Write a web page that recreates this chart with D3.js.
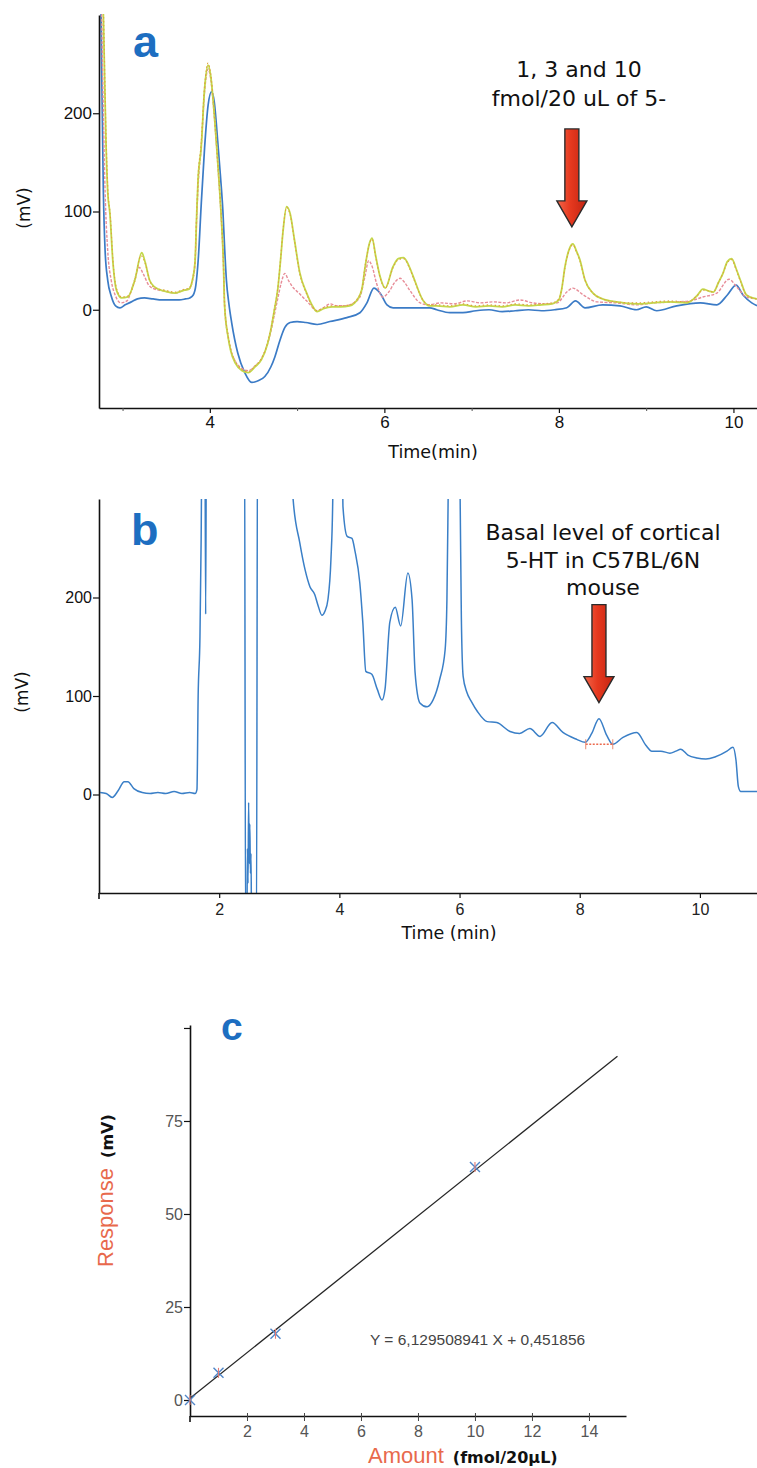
<!DOCTYPE html>
<html>
<head>
<meta charset="utf-8">
<script src="https://cdn.jsdelivr.net/npm/d3@7"></script>
<style>
  html, body { margin: 0; padding: 0; background: #ffffff; }
  svg { display: block; }
</style>
</head>
<body>
<svg id="fig" width="757" height="1468"></svg>
<script>
// ---------- Panel a: 5-HT standards, four overlaid chromatograms ----------
const aXTicks = [4, 6, 8, 10];
const aXMinor = [3, 5, 7, 9];
const aYTicks = [0, 100, 200];

// [time (min), response (mV)]
const aBlue = [[2.74,420],[2.76,250],[2.78,120],[2.80,60],[2.83,30],[2.87,14],[2.92,4],[2.97,2],[3.03,5],[3.10,8],[3.17,11],[3.25,12],[3.35,11],[3.45,10],[3.55,10],[3.65,10],[3.72,11],[3.77,12],[3.81,15],[3.84,25],[3.87,55],[3.90,105],[3.94,165],[3.98,208],[4.02,222],[4.05,212],[4.09,172],[4.12,138],[4.15,100],[4.17,62],[4.19,30],[4.22,5],[4.25,-13],[4.32,-44],[4.40,-64],[4.48,-74],[4.56,-72],[4.63,-68],[4.70,-58],[4.745,-48],[4.80,-32],[4.86,-18],[4.92,-13],[5.00,-12],[5.10,-13],[5.23,-15],[5.375,-12],[5.57,-8],[5.72,-3],[5.80,7],[5.88,22],[5.95,17],[6.03,5],[6.10,2],[6.33,2],[6.52,2],[6.60,0],[6.75,-3],[6.90,-3],[7.05,-1],[7.20,0],[7.35,-2],[7.50,-1],[7.65,0],[7.80,-1],[7.95,0],[8.09,2],[8.19,9],[8.30,2],[8.50,5],[8.70,4],[8.89,0],[9.00,3],[9.12,-1],[9.35,4],[9.62,7],[9.81,5],[9.93,15],[10.03,25],[10.11,15],[10.21,7],[10.27,4]];

const aPink = [[2.74,420],[2.77,250],[2.80,120],[2.83,60],[2.87,30],[2.92,14],[2.98,7],[3.05,9],[3.12,25],[3.19,43],[3.24,36],[3.30,25],[3.37,21],[3.48,19],[3.60,17],[3.71,20],[3.76,21],[3.80,29],[3.83,46],[3.85,95],[3.87,132],[3.90,164],[3.94,222],[3.98,245],[4.01,235],[4.05,198],[4.08,162],[4.11,123],[4.13,94],[4.155,48],[4.17,2],[4.21,-28],[4.24,-41],[4.29,-52],[4.37,-60],[4.44,-62],[4.52,-57],[4.59,-50],[4.66,-35],[4.70,-22],[4.74,-5],[4.78,12],[4.82,28],[4.86,37],[4.90,30],[4.95,23],[5.02,17],[5.12,8],[5.23,-1],[5.30,2],[5.38,6],[5.45,4],[5.55,4],[5.65,7],[5.72,13],[5.78,35],[5.82,50],[5.86,44],[5.91,27],[5.98,13],[6.05,18],[6.12,28],[6.18,32],[6.23,28],[6.29,20],[6.41,7],[6.50,5],[6.65,7],[6.80,6],[6.95,9],[7.10,7],[7.25,8],[7.40,7],[7.55,10],[7.70,7],[7.85,6],[7.98,7],[8.09,18],[8.16,22],[8.28,15],[8.44,8],[8.66,7],[8.89,5],[9.10,7],[9.35,8],[9.50,9],[9.65,13],[9.81,17],[9.95,31],[10.04,23],[10.15,13],[10.27,11]];

const aGreen = [[2.74,420],[2.78,300],[2.81,170],[2.83,120],[2.855,98],[2.89,48],[2.93,20],[2.99,12],[3.06,13],[3.14,30],[3.22,58],[3.26,48],[3.31,30],[3.37,23],[3.48,19],[3.60,17],[3.71,20],[3.76,21],[3.80,30],[3.83,48],[3.85,98],[3.865,132],[3.90,164],[3.94,225],[3.98,249],[4.01,238],[4.05,200],[4.08,164],[4.11,125],[4.13,96],[4.155,50],[4.17,3],[4.21,-28],[4.24,-42],[4.29,-54],[4.37,-62],[4.44,-64],[4.52,-58],[4.59,-51],[4.66,-35],[4.70,-20],[4.74,0],[4.78,22],[4.81,50],[4.84,81],[4.88,105],[4.92,98],[4.97,71],[5.03,38],[5.11,17],[5.17,5],[5.23,-2],[5.30,1],[5.40,3],[5.50,3],[5.60,4],[5.66,7],[5.74,20],[5.78,44],[5.83,68],[5.86,73],[5.90,55],[5.95,34],[6.01,22],[6.10,44],[6.16,52],[6.22,53],[6.28,45],[6.33,34],[6.44,10],[6.52,4],[6.60,4],[6.75,3],[6.90,5],[7.05,3],[7.20,4],[7.35,3],[7.50,5],[7.65,4],[7.80,5],[7.92,6],[8.00,10],[8.03,20],[8.07,44],[8.12,62],[8.16,67],[8.20,60],[8.24,51],[8.30,30],[8.39,17],[8.50,11],[8.66,8],[8.89,6],[9.08,7],[9.27,8],[9.47,7],[9.58,14],[9.65,21],[9.72,19],[9.77,18],[9.83,28],[9.88,37],[9.93,49],[9.98,52],[10.03,42],[10.08,30],[10.15,15],[10.27,11]];

const aOrange = [[2.74,420],[2.78,310],[2.81,180],[2.83,125],[2.86,95],[2.89,50],[2.93,22],[2.99,13],[3.06,14],[3.14,29],[3.21,55],[3.26,47],[3.31,30],[3.37,22],[3.48,20],[3.60,18],[3.71,21],[3.76,22],[3.80,31],[3.83,50],[3.85,100],[3.865,135],[3.90,168],[3.94,228],[3.98,251],[4.01,240],[4.05,202],[4.08,165],[4.11,126],[4.13,97],[4.155,52],[4.17,5],[4.21,-26],[4.24,-40],[4.29,-52],[4.37,-61],[4.44,-63],[4.52,-57],[4.59,-50],[4.66,-34],[4.70,-19],[4.74,1],[4.78,23],[4.81,51],[4.84,82],[4.88,104],[4.92,97],[4.97,70],[5.03,37],[5.11,16],[5.17,4],[5.23,-1],[5.30,2],[5.40,4],[5.50,4],[5.60,5],[5.66,8],[5.74,21],[5.78,45],[5.83,67],[5.86,72],[5.90,54],[5.95,33],[6.01,22],[6.10,43],[6.16,51],[6.22,52],[6.28,44],[6.33,33],[6.44,10],[6.52,5],[6.60,5],[6.75,4],[6.90,6],[7.05,4],[7.20,5],[7.35,4],[7.50,6],[7.65,5],[7.80,6],[7.92,7],[8.00,11],[8.03,20],[8.07,43],[8.12,61],[8.16,66],[8.20,59],[8.24,50],[8.30,30],[8.39,17],[8.50,11],[8.66,8],[8.89,7],[9.08,8],[9.27,9],[9.47,8],[9.58,14],[9.65,20],[9.72,19],[9.77,18],[9.83,28],[9.88,37],[9.93,48],[9.98,51],[10.03,41],[10.08,29],[10.15,15],[10.27,11]];

const aPeakTime = 8.16;   // 5-HT retention time
const aPeakTop = 67;      // tallest 5-HT peak (10 fmol)
const aNote = ["1, 3 and 10", "fmol/20 uL of 5-"];

// ---------- Panel b: basal cortical dialysate ----------
const bXTicks = [2, 4, 6, 8, 10];
const bYTicks = [0, 100, 200];
const bTrace = [[0.02,2],[0.12,1],[0.22,-3],[0.32,4],[0.42,13],[0.48,13],[0.58,6],[0.72,2],[0.85,1],[0.98,2],[1.11,1],[1.25,3],[1.38,1],[1.51,2],[1.60,1],[1.63,5],[1.65,100],[1.68,160],[1.70,260],[1.72,420],[1.76,420],[1.775,183],[1.79,420],[2.42,420],[2.44,-150],[2.46,-150],[2.47,-55],[2.48,-90],[2.49,-8],[2.50,-70],[2.51,-30],[2.52,-80],[2.53,-60],[2.54,-150],[2.62,-150],[2.64,420],[3.21,420],[3.23,300],[3.34,256],[3.43,228],[3.51,211],[3.59,203],[3.64,193],[3.71,182],[3.76,186],[3.81,198],[3.86,239],[3.89,300],[3.91,420],[4.04,420],[4.06,292],[4.13,262],[4.21,260],[4.26,247],[4.34,215],[4.39,175],[4.44,125],[4.54,122],[4.63,107],[4.71,96],[4.76,107],[4.84,175],[4.93,190],[5.02,171],[5.14,225],[5.21,198],[5.26,124],[5.34,93],[5.46,89],[5.56,96],[5.67,117],[5.76,147],[5.79,198],[5.81,300],[5.83,420],[5.98,420],[6.01,300],[6.03,180],[6.06,120],[6.12,104],[6.20,94],[6.30,84],[6.46,74],[6.62,73],[6.84,64],[7.00,62],[7.17,67],[7.34,59],[7.54,73],[7.72,63],[7.95,56],[8.09,53],[8.20,62],[8.32,77],[8.45,60],[8.55,51],[8.72,58],[8.95,63],[9.10,50],[9.20,44],[9.35,44],[9.50,42],[9.60,44],[9.68,46],[9.80,40],[9.95,37],[10.10,36],[10.25,38],[10.45,44],[10.55,48],[10.60,35],[10.64,8],[10.68,3],[10.95,3]];
const bPeakTime = 8.32;
const bPeakTop = 77;
const bBaseline = [[8.10, 51], [8.55, 51]];   // integration baseline of the 5-HT peak
const bNote = ["Basal level of cortical", "5-HT in C57BL/6N", "mouse"];

// ---------- Panel c: calibration curve ----------
const cAmount = [0, 1, 3, 10];
const cResponse = [0, 7.3, 17.8, 62.6];
const cSlope = 6.129508941;
const cIntercept = 0.451856;
const cFitRange = [0, 15];
const cXTicks = [2, 4, 6, 8, 10, 12, 14];
const cYTicks = [0, 25, 50, 75, 100];

// ---------------------------------------------------------------
const svg = d3.select("#fig");
const defs = svg.append("defs");

const SANS = "'Liberation Sans', Arial, sans-serif";
const VERD = "'DejaVu Sans', Verdana, sans-serif";
const LETTER_BLUE = "#1d6ec1";

const grad = defs.append("linearGradient").attr("id", "arrowFill")
  .attr("x1", "0%").attr("x2", "100%").attr("y1", "0%").attr("y2", "0%");
grad.append("stop").attr("offset", "0%").attr("stop-color", "#f2664a");
grad.append("stop").attr("offset", "45%").attr("stop-color", "#e6391f");
grad.append("stop").attr("offset", "100%").attr("stop-color", "#c22412");

function styleTicks(g, family, size, color) {
  g.selectAll("text").attr("font-family", family).attr("font-size", size).attr("fill", color);
  g.selectAll("line").attr("stroke", "#111").attr("stroke-width", 1.2);
  g.select(".domain").attr("stroke", "#111").attr("stroke-width", 1.6);
}

function downArrow(g, cx, tipY) {
  const shaftW = 14, headW = 30, headH = 26, shaftH = 72;
  const yHead = tipY - headH, yTop = yHead - shaftH;
  const p = d3.path();
  p.moveTo(cx - shaftW / 2, yTop);
  p.lineTo(cx + shaftW / 2, yTop);
  p.lineTo(cx + shaftW / 2, yHead);
  p.lineTo(cx + headW / 2, yHead);
  p.lineTo(cx, tipY);
  p.lineTo(cx - headW / 2, yHead);
  p.lineTo(cx - shaftW / 2, yHead);
  p.closePath();
  g.append("path").attr("d", p.toString())
    .attr("fill", "url(#arrowFill)").attr("stroke", "#2b2b2b")
    .attr("stroke-width", 1.4).attr("stroke-linejoin", "miter");
}

function noteLines(g, lines, cx, y0, step) {
  const t = g.append("text").attr("font-family", VERD).attr("font-size", 22)
    .attr("fill", "#111").attr("text-anchor", "middle");
  lines.forEach((s, i) => t.append("tspan").attr("x", cx).attr("y", y0 + i * step).text(s));
}

// ================= Panel a =================
{
  const x = d3.scaleLinear().domain([2.73, 10.27]).range([99, 757]);
  const y = d3.scaleLinear().domain([-100, 300]).range([408, 15]);
  const g = svg.append("g");

  defs.append("clipPath").attr("id", "clipA").append("rect")
    .attr("x", 99).attr("y", 14).attr("width", 658).attr("height", 394);

  const line = d3.line().x(d => x(d[0])).y(d => y(d[1])).curve(d3.curveMonotoneX);
  const plot = g.append("g").attr("clip-path", "url(#clipA)");
  plot.append("path").datum(aBlue).attr("d", line).attr("fill", "none")
    .attr("stroke", "#3b7bc6").attr("stroke-width", 1.7);
  plot.append("path").datum(aPink).attr("d", line).attr("fill", "none")
    .attr("stroke", "#e78d98").attr("stroke-width", 1.4).attr("stroke-dasharray", "3,1.5");
  plot.append("path").datum(aGreen).attr("d", line).attr("fill", "none")
    .attr("stroke", "#c3d84a").attr("stroke-width", 1.8);
  plot.append("path").datum(aOrange).attr("d", line).attr("fill", "none")
    .attr("stroke", "#dfa03e").attr("stroke-width", 1.1).attr("stroke-dasharray", "1.5,2.5");

  const xa = g.append("g").attr("transform", "translate(0,408)")
    .call(d3.axisBottom(x).tickValues(aXTicks).tickSize(5).tickPadding(3).tickSizeOuter(0).tickFormat(d3.format("d")));
  styleTicks(xa, SANS, 17, "#111");
  const xm = g.append("g").attr("transform", "translate(0,408)")
    .call(d3.axisBottom(x).tickValues(aXMinor).tickSize(3).tickSizeOuter(0).tickFormat(""));
  xm.select(".domain").remove();
  xm.selectAll("line").attr("stroke", "#555");

  const ya = g.append("g").attr("transform", "translate(99,0)")
    .call(d3.axisLeft(y).tickValues(aYTicks).tickSize(6).tickPadding(1).tickSizeOuter(0).tickFormat(d3.format("d")));
  styleTicks(ya, SANS, 17, "#111");

  g.append("text").attr("transform", "translate(30,208) rotate(-90)")
    .attr("text-anchor", "middle").attr("font-family", VERD).attr("font-size", 17)
    .attr("fill", "#111").text("(mV)");
  g.append("text").attr("x", 433).attr("y", 458).attr("text-anchor", "middle")
    .attr("font-family", VERD).attr("font-size", 17.5).attr("fill", "#111").text("Time(min)");

  g.append("text").attr("x", 133).attr("y", 57).attr("font-family", SANS)
    .attr("font-weight", "bold").attr("font-size", 45).attr("fill", LETTER_BLUE).text("a");

  noteLines(g, aNote, 579, 77, 29);
  downArrow(g, x(aPeakTime) - 1, y(aPeakTop) - 17);
}

// ================= Panel b =================
{
  const x = d3.scaleLinear().domain([0, 10.95]).range([99, 757]);
  const y = d3.scaleLinear().domain([-100, 300]).range([893, 499]);
  const g = svg.append("g");

  defs.append("clipPath").attr("id", "clipB").append("rect")
    .attr("x", 99).attr("y", 499).attr("width", 658).attr("height", 394);

  const line = d3.line().x(d => x(d[0])).y(d => y(d[1])).curve(d3.curveMonotoneX);
  const plot = g.append("g").attr("clip-path", "url(#clipB)");
  plot.append("path").datum(bTrace).attr("d", line).attr("fill", "none")
    .attr("stroke", "#3a7fc7").attr("stroke-width", 1.5);

  // integration baseline under the 5-HT peak
  plot.append("line")
    .attr("x1", x(bBaseline[0][0])).attr("y1", y(bBaseline[0][1]))
    .attr("x2", x(bBaseline[1][0])).attr("y2", y(bBaseline[1][1]))
    .attr("stroke", "#ec6a4e").attr("stroke-width", 1.3).attr("stroke-dasharray", "2,1.5");
  bBaseline.forEach(p => {
    plot.append("line").attr("x1", x(p[0])).attr("x2", x(p[0]))
      .attr("y1", y(p[1]) - 5).attr("y2", y(p[1]) + 5)
      .attr("stroke", "#ec8a70").attr("stroke-width", 1);
  });

  const xa = g.append("g").attr("transform", "translate(0,893)")
    .call(d3.axisBottom(x).tickValues(bXTicks).tickSize(5).tickPadding(6).tickSizeOuter(0).tickFormat(d3.format("d")));
  styleTicks(xa, SANS, 16, "#222");
  const ya = g.append("g").attr("transform", "translate(99,0)")
    .call(d3.axisLeft(y).tickValues(bYTicks).tickSize(6).tickPadding(1).tickSizeOuter(0).tickFormat(d3.format("d")));
  styleTicks(ya, SANS, 16, "#111");
  g.append("line").attr("x1", 99).attr("x2", 99).attr("y1", 893).attr("y2", 899)
    .attr("stroke", "#111").attr("stroke-width", 1.6);

  g.append("text").attr("transform", "translate(28,692) rotate(-90)")
    .attr("text-anchor", "middle").attr("font-family", VERD).attr("font-size", 17)
    .attr("fill", "#111").text("(mV)");
  g.append("text").attr("x", 449).attr("y", 939).attr("text-anchor", "middle")
    .attr("font-family", VERD).attr("font-size", 17.5).attr("fill", "#111").text("Time (min)");

  g.append("text").attr("x", 131).attr("y", 545).attr("font-family", SANS)
    .attr("font-weight", "bold").attr("font-size", 45).attr("fill", LETTER_BLUE).text("b");

  noteLines(g, bNote, 603, 540, 27.5);
  downArrow(g, x(bPeakTime), y(bPeakTop) - 16);
}

// ================= Panel c =================
{
  const x = d3.scaleLinear().domain([0, 15.3]).range([190, 626]);
  const y = d3.scaleLinear().domain([-4.3, 100.8]).range([1416, 1025]);
  const g = svg.append("g");

  const xa = g.append("g").attr("transform", "translate(0,1416)")
    .call(d3.axisBottom(x).tickValues(cXTicks).tickSize(5).tickPadding(5).tickSizeOuter(0).tickFormat(d3.format("d")));
  styleTicks(xa, SANS, 16, "#555");
  xa.selectAll("line").attr("stroke", "#444").attr("stroke-width", 1).attr("y1", -3);
  const ya = g.append("g").attr("transform", "translate(190,0)")
    .call(d3.axisLeft(y).tickValues(cYTicks).tickSize(6).tickPadding(1).tickSizeOuter(0)
      .tickFormat(d => d === 100 ? "" : d3.format("d")(d)));
  styleTicks(ya, SANS, 16, "#555");
  g.append("line").attr("x1", 190).attr("x2", 190).attr("y1", 1416).attr("y2", 1422)
    .attr("stroke", "#111").attr("stroke-width", 1.6);

  // least-squares calibration line
  g.append("line")
    .attr("x1", x(cFitRange[0])).attr("y1", y(cSlope * cFitRange[0] + cIntercept))
    .attr("x2", x(cFitRange[1])).attr("y2", y(cSlope * cFitRange[1] + cIntercept))
    .attr("stroke", "#262626").attr("stroke-width", 1.3);

  // calibration standards
  const pts = g.append("g");
  cAmount.forEach((a, i) => {
    const px = x(a), py = y(cResponse[i]);
    pts.append("path").attr("d", `M${px-5},${py-5}L${px+5},${py+5}M${px-5},${py+5}L${px+5},${py-5}`)
      .attr("stroke", "#4f86c9").attr("stroke-width", 1.4).attr("fill", "none");
    pts.append("path").attr("d", `M${px},${py-5}L${px},${py+5}`)
      .attr("stroke", "#e57a74").attr("stroke-width", 1.1).attr("fill", "none");
  });

  const fmt = v => String(v).replace(".", ",");
  g.append("text").attr("x", 370).attr("y", 1345).attr("font-family", SANS)
    .attr("font-size", 15.5).attr("fill", "#444")
    .text(`Y = ${fmt(cSlope)} X + ${fmt(cIntercept)}`);

  const yl = g.append("text").attr("transform", "translate(113,1267) rotate(-90)");
  yl.append("tspan").attr("font-family", SANS).attr("font-size", 22).attr("fill", "#e8694c").text("Response");
  yl.append("tspan").attr("dx", 10).attr("font-family", VERD).attr("font-weight", "bold")
    .attr("font-size", 16).attr("fill", "#111").text("(mV)");

  const xl = g.append("text").attr("x", 368).attr("y", 1463);
  xl.append("tspan").attr("font-family", SANS).attr("font-size", 22).attr("fill", "#e8694c").text("Amount");
  xl.append("tspan").attr("dx", 9).attr("font-family", VERD).attr("font-weight", "bold")
    .attr("font-size", 16).attr("fill", "#111").text("(fmol/20µL)");

  g.append("text").attr("x", 221).attr("y", 1040).attr("font-family", SANS)
    .attr("font-weight", "bold").attr("font-size", 39).attr("fill", LETTER_BLUE).text("c");
}
</script>
</body>
</html>
